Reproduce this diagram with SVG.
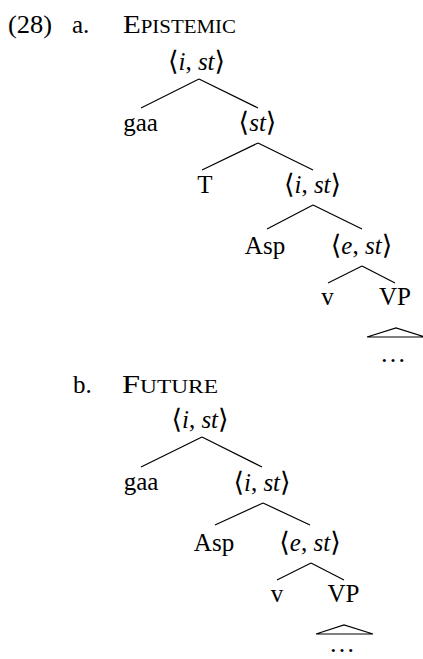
<svg xmlns="http://www.w3.org/2000/svg" width="423" height="659" viewBox="0 0 423 659">
<style>
text{font-family:"Liberation Serif","DejaVu Serif",serif;font-size:25px;fill:#000}
.n{text-anchor:middle}
.sc{font-variant:small-caps}
.it{font-style:italic}
.br{font-family:"DejaVu Serif","Liberation Serif",serif;font-size:27px}
.dots{font-size:26px}
#edges line,#edges polyline{stroke:#000;stroke-width:1.2;fill:none}
</style>
<rect width="423" height="659" fill="#fff"/>
<g id="labels">
<text x="8" y="33" textLength="44" lengthAdjust="spacingAndGlyphs">(28)</text>
<text x="72" y="33">a.</text>
<text x="123" y="33" class="sc" textLength="113" lengthAdjust="spacingAndGlyphs">Epistemic</text>
<text x="73" y="393">b.</text>
<text x="122" y="393" class="sc" textLength="96" lengthAdjust="spacingAndGlyphs">Future</text>
</g>
<g id="edges">
<line x1="199" y1="79" x2="141" y2="108"/><line x1="199" y1="79" x2="258" y2="108"/>
<line x1="258" y1="143" x2="202" y2="170"/><line x1="258" y1="143" x2="313" y2="170"/>
<line x1="313" y1="205" x2="267" y2="229"/><line x1="313" y1="205" x2="362" y2="229"/>
<line x1="362" y1="266" x2="328" y2="283"/><line x1="362" y1="266" x2="395" y2="283"/>
<polyline points="367,337 396,328 425,337 367,337"/>
<line x1="202" y1="437" x2="141" y2="467"/><line x1="202" y1="437" x2="262" y2="467"/>
<line x1="263" y1="503" x2="215" y2="525"/><line x1="263" y1="503" x2="310" y2="525"/>
<line x1="311" y1="563" x2="277" y2="580"/><line x1="311" y1="563" x2="344" y2="580"/>
<polyline points="316,634 344,625 373,634 316,634"/>
</g>
<g id="a-root"><text class="n" x="196.5" y="70"><tspan class="br">⟨</tspan><tspan class="it">i</tspan>, <tspan class="it">st</tspan><tspan class="br">⟩</tspan></text></g>
<g id="a-gaa"><text class="n" x="140.5" y="131">gaa</text></g>
<g id="a-st"><text class="n" x="257.5" y="131"><tspan class="br">⟨</tspan><tspan class="it">st</tspan><tspan class="br">⟩</tspan></text></g>
<g id="a-T"><text class="n" x="205" y="193">T</text></g>
<g id="a-ist"><text class="n" x="312.5" y="193"><tspan class="br">⟨</tspan><tspan class="it">i</tspan>, <tspan class="it">st</tspan><tspan class="br">⟩</tspan></text></g>
<g id="a-Asp"><text class="n" x="265" y="254">Asp</text></g>
<g id="a-est"><text class="n" x="361.5" y="254"><tspan class="br">⟨</tspan><tspan class="it">e</tspan>, <tspan class="it">st</tspan><tspan class="br">⟩</tspan></text></g>
<g id="a-v"><text class="n" x="327.5" y="305">v</text></g>
<g id="a-VP"><text class="n" x="395" y="305">VP</text></g>
<g id="a-dots"><text class="n dots" x="393" y="362">…</text></g>
<g id="b-root"><text class="n" x="200" y="428"><tspan class="br">⟨</tspan><tspan class="it">i</tspan>, <tspan class="it">st</tspan><tspan class="br">⟩</tspan></text></g>
<g id="b-gaa"><text class="n" x="141" y="490">gaa</text></g>
<g id="b-ist"><text class="n" x="262" y="491"><tspan class="br">⟨</tspan><tspan class="it">i</tspan>, <tspan class="it">st</tspan><tspan class="br">⟩</tspan></text></g>
<g id="b-Asp"><text class="n" x="214" y="551">Asp</text></g>
<g id="b-est"><text class="n" x="310" y="551"><tspan class="br">⟨</tspan><tspan class="it">e</tspan>, <tspan class="it">st</tspan><tspan class="br">⟩</tspan></text></g>
<g id="b-v"><text class="n" x="277" y="602">v</text></g>
<g id="b-VP"><text class="n" x="343.5" y="602">VP</text></g>
<g id="b-dots"><text class="n dots" x="342" y="652">…</text></g>
</svg>
